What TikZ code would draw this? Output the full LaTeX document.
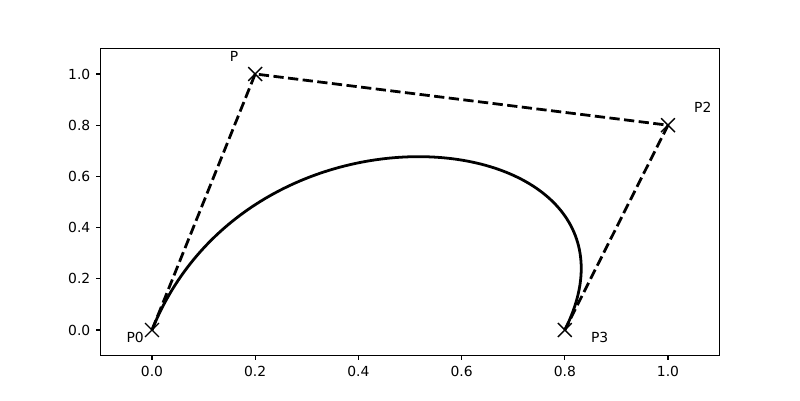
\documentclass[tikz,border=0pt]{standalone}
\usepackage{fontspec}
\setmainfont{DejaVu Sans}

\tikzset{
    xmark/.pic={\draw[line width=0.69pt] (-3.47pt,-3.47pt) -- (3.47pt,3.47pt) (-3.47pt,3.47pt) -- (3.47pt,-3.47pt);}
}

\begin{document}
\begin{tikzpicture}[
    x=258pt, y=128pt,
    font=\fontsize{6.94}{8}\selectfont,
    spine/.style={line width=0.56pt},
    curve/.style={line width=1.39pt, line join=round},
    hull/.style={line width=1.39pt, dash pattern=on 5.14pt off 2.22pt, line join=round},
    lbl/.style={anchor=base west, inner sep=0pt},
    ticklbl/.style={inner sep=0pt}
]
\useasboundingbox (-0.29457,-0.27344) rectangle (1.25581,1.28906);

% Axes
\draw[spine] (-0.1,-0.1) rectangle (1.1,1.1);
\foreach \v [count=\i] in {0.0,0.2,0.4,0.6,0.8,1.0} {
    \draw[spine] (\v,-0.1) -- ++(0,-2.43pt);
    \node[ticklbl, anchor=north] (xt\i) at ([yshift=-4.86pt]\v,-0.1) {\v};
    \draw[spine] (-0.1,\v) -- ++(-2.43pt,0);
    \node[ticklbl, anchor=east] (yt\i) at ([xshift=-4.86pt]-0.1,\v) {\v};
}

% Control points
\coordinate (P0) at (0,0);
\coordinate (P1) at (0.2,1);
\coordinate (P2) at (1,0.8);
\coordinate (P3) at (0.8,0);

% Curve and control polygon
\draw[curve] (P0) .. controls (P1) and (P2) .. (P3);
\draw[hull] (P0) -- (P1) -- (P2) -- (P3);
\foreach \p in {P0,P1,P2,P3} \pic at (\p) {xmark};

% Labels
\node[lbl] (lp0) at (-0.05,-0.05) {P0};
\node[lbl] (lp1) at (0.15,1.05) {P};
\node[lbl] (lp2) at (1.05,0.85) {P2};
\node[lbl] (lp3) at (0.85,-0.05) {P3};

\end{tikzpicture}
\end{document}
